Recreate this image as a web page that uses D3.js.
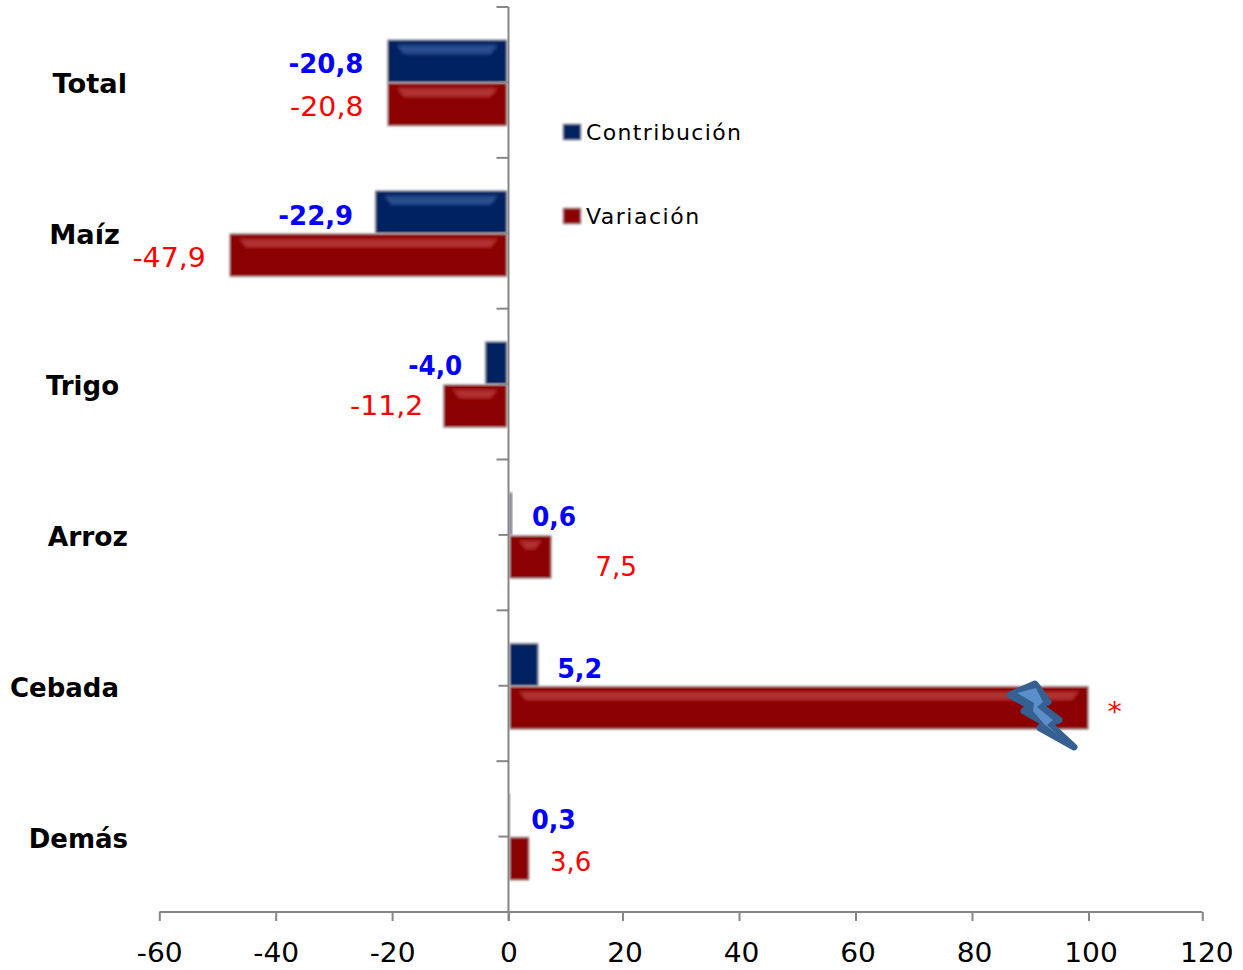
<!DOCTYPE html>
<html><head><meta charset="utf-8">
<script src="https://cdnjs.cloudflare.com/ajax/libs/d3/7.8.5/d3.min.js"></script>
<style>html,body{margin:0;background:#fff}svg{display:block}text{font-family:"DejaVu Sans",Verdana,sans-serif}</style>
</head><body><svg id="c" width="1243" height="970"></svg>
<script>
const categories=["Total","Maíz","Trigo","Arroz","Cebada","Demás"];
const contribucion=[-20.8,-22.9,-4.0,0.6,5.2,0.3];
const variacion=[-20.8,-47.9,-11.2,7.5,100,3.6];
const contribLabels=["-20,8","-22,9","-4,0","0,6","5,2","0,3"];
const variacionLabels=["-20,8","-47,9","-11,2","7,5","*","3,6"];
const xTicks=[-60,-40,-20,0,20,40,60,80,100,120];
const seriesNames=["Contribución","Variación"];

const catRight=[127,120,119,128,119,128];
const catK=[1.05,1.05,1,1.02,1,1];
const cGap=[24,22,23,20,19,21], cDy=[3,4,3,4,5,5], cK=[1,1,.95,.96,.98,.97];
const vGap=[24,24,20,44,19,21], vDy=[3,3,0,11,5,4], vK=[1.09,1.09,1.09,1.01,1.1,1];

const svg=d3.select("#c");
const x=d3.scaleLinear().domain([-60,0,20,100,120]).range([159.3,508.5,622.5,1088.5,1202.3]);
const y=d3.scaleBand().domain(categories).range([7,912]);
const BAR=43;
const defs=svg.append("defs");
defs.append("filter").attr("id","soft").attr("x","-10%").attr("y","-10%").attr("width","120%").attr("height","120%")
  .append("feGaussianBlur").attr("stdDeviation",0.8);
defs.append("filter").attr("id","soft2").attr("x","-20%").attr("y","-50%").attr("width","140%").attr("height","200%")
  .append("feGaussianBlur").attr("stdDeviation",1.8);
const stretch=(sel,k)=>sel.each(function(){
  const t=d3.select(this), px=+t.attr("x")||0;
  t.attr("transform",`translate(${px*(1-k)},0) scale(${k},1)`);
});

const axisColor="#868686";
const bars=svg.append("g");
const fills=["#002060","#8b0000"], hi=["#2c4f90","#b03030"];
function drawBar(v,cat,s){
  const x0=x(Math.min(0,v))+(v<0?0:1), x1=x(Math.max(0,v))-(v<0?1.5:0);
  const top=y(cat)+y.bandwidth()/2+(s===0?-BAR+0.5:0.5);
  const g=bars.append("g").attr("filter","url(#soft)");
  g.append("rect").attr("x",x0).attr("y",top).attr("width",x1-x0).attr("height",BAR)
    .attr("fill",fills[s]).attr("stroke","#b8b8b8").attr("stroke-width",1);
  if(x1-x0>38){
    g.append("path").attr("d",`M${x0+9},${top+5}H${x1-9}L${x1-16},${top+14}H${x0+16}Z`)
      .attr("fill",hi[s]).attr("filter","url(#soft2)");
  }
}
categories.forEach((c,i)=>{drawBar(contribucion[i],c,0);drawBar(variacion[i],c,1);});

// axes
const xAxis=svg.append("g").attr("transform","translate(0,912)")
  .call(d3.axisBottom(x).tickValues(xTicks).tickSize(9).tickPadding(23).tickFormat(d=>String(d)));
xAxis.selectAll("path,line").attr("stroke",axisColor).attr("stroke-width",2);
xAxis.select("path").attr("d","M159.3,0H1202.3");
xAxis.selectAll("text").attr("font-size",26).attr("fill","#000").attr("x",d=>d>0?(d===120?4:2):0)
  .call(stretch,1.08);

const yG=svg.append("g");
const tick=(p,len)=>yG.append("line").attr("x1",x(0)-len).attr("x2",x(0)).attr("y1",p).attr("y2",p).attr("stroke",axisColor).attr("stroke-width",2);
yG.append("line").attr("x1",x(0)).attr("x2",x(0)).attr("y1",7).attr("y2",921).attr("stroke",axisColor).attr("stroke-width",2);
categories.forEach(c=>{tick(y(c),12);tick(y(c)+y.bandwidth()/2,10);});
tick(912,12);

// labels
categories.forEach((c,i)=>{
  svg.append("text").attr("x",catRight[i]).attr("y",y(c)+y.bandwidth()/2+11).attr("text-anchor","end")
    .attr("font-size",26).attr("font-weight","bold").attr("fill","#000").text(c).call(stretch,catK[i]);
  const cv=contribucion[i], vv=variacion[i], mid=y(c)+y.bandwidth()/2;
  svg.append("text").attr("x",x(cv)+(cv<0?-cGap[i]:cGap[i])).attr("y",mid-BAR/2+9+cDy[i])
    .attr("text-anchor",cv<0?"end":"start").attr("font-size",26).attr("font-weight","bold").attr("fill","#0000ff").text(contribLabels[i]).call(stretch,cK[i]);
  svg.append("text").attr("x",x(vv)+(vv<0?-vGap[i]:vGap[i])).attr("y",mid+BAR/2+9+vDy[i])
    .attr("text-anchor",vv<0?"end":"start").attr("font-size",26).attr("fill","#ff0000").text(variacionLabels[i]).call(stretch,vK[i]);
});

// legend
[132,216].forEach((ly,i)=>{
  svg.append("rect").attr("x",563).attr("y",ly-8).attr("width",18).attr("height",16).attr("fill",fills[i]).attr("stroke","#b8b8b8").attr("stroke-width",1).attr("filter","url(#soft)");
  svg.append("text").attr("x",586).attr("y",ly+8).attr("font-size",22).attr("letter-spacing",i?1.5:1.35).attr("fill","#000").text(seriesNames[i]);
});

// lightning annotation (truncation mark on the Cebada bar)
const boltOuter="M1010,695 L1035,684 L1048,702 L1039,705 L1059,720 L1048,723 L1074,747 L1040,728 L1045,723 L1024,711 L1030,706 Z";
const boltInner="M1017,693 L1036,688 L1043,702 L1037,707 L1053,720 L1047,725 L1060,737 L1044,724 L1033,711 L1034,703 Z";
svg.append("path").attr("d",boltOuter).attr("fill","#35608f").attr("stroke","#35608f").attr("stroke-width",7).attr("stroke-linejoin","round");
svg.append("path").attr("d",boltInner).attr("fill","#5b8fcb");
</script></body></html>
